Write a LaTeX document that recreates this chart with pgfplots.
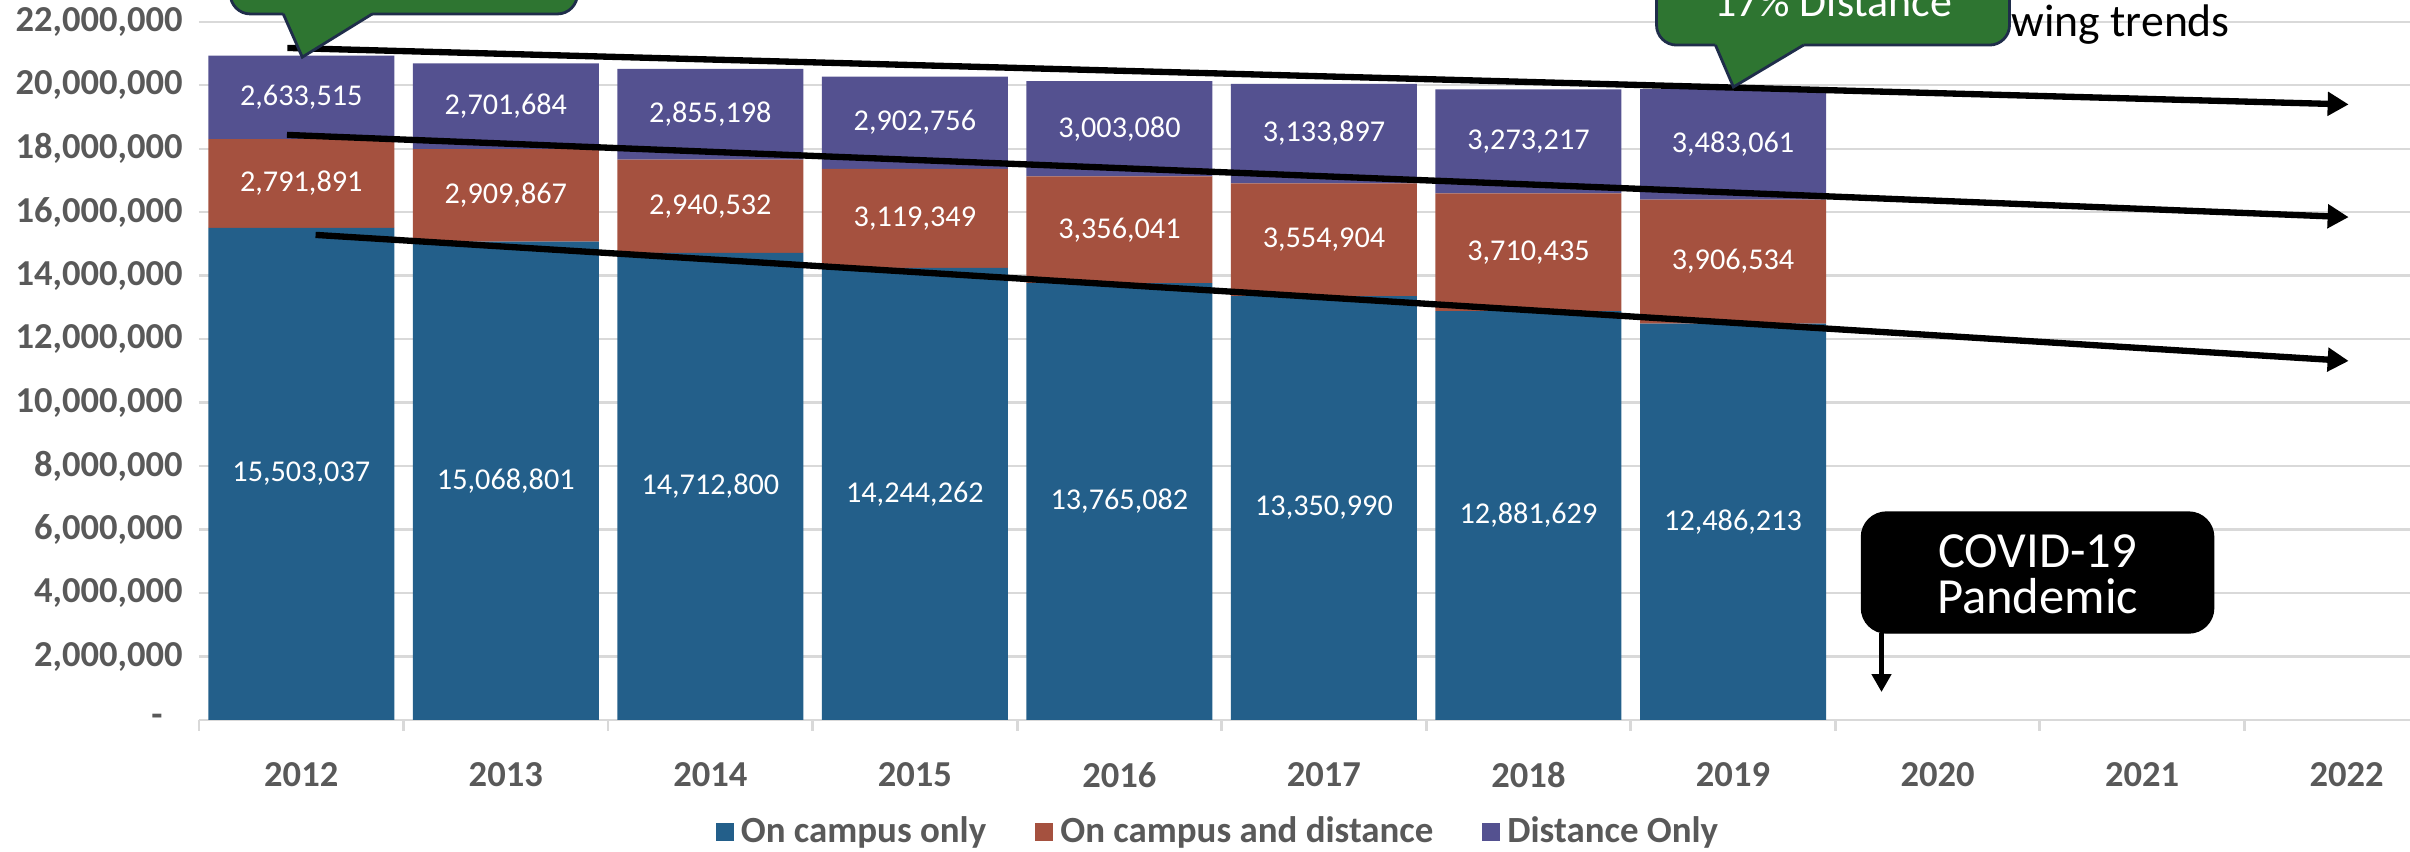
\documentclass[border=0pt]{standalone}
\usepackage{pgfplots}
\pgfplotsset{compat=1.18}
\usepackage{pgfplotstable}
\usepackage{fontspec}
\setmainfont{Carlito}
\usetikzlibrary{arrows.meta}
\definecolor{cblue}{HTML}{235F8A}
\definecolor{cred}{HTML}{A5513F}
\definecolor{cpurple}{HTML}{545190}
\definecolor{tickgray}{HTML}{595959}
\definecolor{gridgray}{HTML}{D9D9D9}
\definecolor{cgreen}{HTML}{2E7531}
\definecolor{cborder}{HTML}{1F2D4A}

\pgfplotstableread{
x campus both distance
0 15503037 2791891 2633515
1 15068801 2909867 2701684
2 14712800 2940532 2855198
3 14244262 3119349 2902756
4 13765082 3356041 3003080
5 13350990 3554904 3133897
6 12881629 3710435 3273217
7 12486213 3906534 3483061
}\enroll

\pgfplotstableread{
x y lab
0 7751518.5 15,503,037
1 7534400.5 15,068,801
2 7356400 14,712,800
3 7122131 14,244,262
4 6882541 13,765,082
5 6675495 13,350,990
6 6440814.5 12,881,629
7 6243106.5 12,486,213
0 16898982.5 2,791,891
1 16523734.5 2,909,867
2 16183066 2,940,532
3 15803936.5 3,119,349
4 15443102.5 3,356,041
5 15128442 3,554,904
6 14736846.5 3,710,435
7 14439480 3,906,534
0 19611685.5 2,633,515
1 19329510 2,701,684
2 19080931 2,855,198
3 18814989 2,902,756
4 18622663 3,003,080
5 18472842.5 3,133,897
6 18228672.5 3,273,217
7 18134277.5 3,483,061
}\labs

\begin{document}
\begin{tikzpicture}
\begin{axis}[
  width=22.11cm, height=7.20cm, scale only axis,
  xmin=-0.5, xmax=10.31, ymin=0, ymax=22680000,
  ybar stacked, bar width=1.86cm,
  axis x line*=bottom, axis y line*=left,
  x axis line style={-, draw=gridgray, line width=0.8pt},
  y axis line style={draw=none},
  xtick={0,1,2,3,4,5,6,7,8,9,10},
  xticklabels={2012,2013,2014,2015,2016,2017,2018,2019,2020,2021,2022},
  minor xtick={-0.5,0.5,1.5,2.5,3.5,4.5,5.5,6.5,7.5,8.5,9.5},
  ytick={0,2000000,4000000,6000000,8000000,10000000,12000000,14000000,16000000,18000000,20000000,22000000},
  yticklabels={{-\kern0.55em},{2,000,000},{4,000,000},{6,000,000},{8,000,000},{10,000,000},{12,000,000},{14,000,000},{16,000,000},{18,000,000},{20,000,000},{22,000,000}},
  scaled y ticks=false,
  major tick length=0pt, minor tick length=0.11cm,
  tick align=outside,
  minor tick style={draw=gridgray, line width=0.8pt},
  ymajorgrids, major grid style={draw=gridgray, line width=0.6pt},
  tick label style={font=\fontsize{10.4}{12}\selectfont\bfseries, text=tickgray},
  yticklabel style={xshift=-0.04cm},
  xticklabel style={yshift=-0.3cm},
  legend columns=3,
  legend cell align=left,
  legend style={draw=none, fill=none, at={(0.462,-0.156)}, anchor=center,
    font=\fontsize{10.5}{12}\selectfont\bfseries, text=tickgray,
    /tikz/every even column/.append style={column sep=0.42cm}},
  legend image code/.code={\fill[#1] (0cm,-0.09cm) rectangle (0.18cm,0.09cm);},
]
\addplot[fill=cblue, draw=none] table[x=x, y=campus] \enroll;
\addplot[fill=cred, draw=none] table[x=x, y=both] \enroll;
\addplot[fill=cpurple, draw=none] table[x=x, y=distance] \enroll;
\legend{On campus only, On campus and distance, Distance Only}
\end{axis}

\begin{axis}[
  width=22.11cm, height=7.20cm, scale only axis,
  xmin=-0.5, xmax=10.31, ymin=0, ymax=22680000,
  hide axis, clip=true,
]
\addplot[only marks, mark=none, nodes near coords, point meta=explicit symbolic,
  every node near coord/.style={anchor=center, text=white, font=\fontsize{8.6}{10}\selectfont}]
  table[x=x, y=y, meta=lab] \labs;

% trend arrows
\draw[line width=1.8pt, -{Triangle[length=2.1mm,width=2.3mm]}] (axis cs:-0.068,21170000) -- (axis cs:10.01,19390000);
\draw[line width=1.8pt, -{Triangle[length=2.1mm,width=2.3mm]}] (axis cs:-0.07,18430000) -- (axis cs:10.01,15840000);
\draw[line width=1.8pt, -{Triangle[length=2.1mm,width=2.3mm]}] (axis cs:0.07,15280000) -- (axis cs:10.01,11310000);

% partially hidden slide text
\node[anchor=base east, font=\fontsize{13}{15}\selectfont, text=black, inner sep=0pt] at (axis cs:9.433,21540000) {following trends};

% left callout
\draw[fill=cgreen, draw=cborder, line width=0.8pt, rounded corners=2mm] (axis cs:-0.347,22240000) rectangle (axis cs:1.350,25500000);
\fill[cgreen] (axis cs:-0.088,22400000) -- (axis cs:-0.088,22240000) -- (axis cs:0.005,20880000) -- (axis cs:0.347,22240000) -- (axis cs:0.347,22400000) -- cycle;
\draw[cborder, line width=0.8pt] (axis cs:-0.088,22240000) -- (axis cs:0.005,20880000) -- (axis cs:0.347,22240000);

% right callout
\draw[fill=cgreen, draw=cborder, line width=0.8pt, rounded corners=2mm] (axis cs:6.626,21260000) rectangle (axis cs:8.352,25500000);
\fill[cgreen] (axis cs:6.914,21420000) -- (axis cs:6.914,21260000) -- (axis cs:7.002,19940000) -- (axis cs:7.345,21260000) -- (axis cs:7.345,21420000) -- cycle;
\draw[cborder, line width=0.8pt] (axis cs:6.914,21260000) -- (axis cs:7.002,19940000) -- (axis cs:7.345,21260000);
\node[anchor=base, text=white, font=\fontsize{12.5}{15}\selectfont, inner sep=0pt] at (axis cs:7.49,22160000) {17\% Distance};

% COVID box
\draw[fill=black, draw=black, rounded corners=2.5mm] (axis cs:7.628,6550000) rectangle (axis cs:9.350,2740000);
\node[text=white, align=center, font=\fontsize{14.4}{13.2}\selectfont] at (axis cs:8.489,4600000) {COVID-19\\Pandemic};
\draw[line width=1.3pt, -{Triangle[length=1.8mm,width=1.9mm]}] (axis cs:7.726,2740000) -- (axis cs:7.726,880000);
\end{axis}

\pgfresetboundingbox
\path[use as bounding box] (-1.99cm,-1.32cm) rectangle (22.11cm,7.20cm);
\end{tikzpicture}
\end{document}
